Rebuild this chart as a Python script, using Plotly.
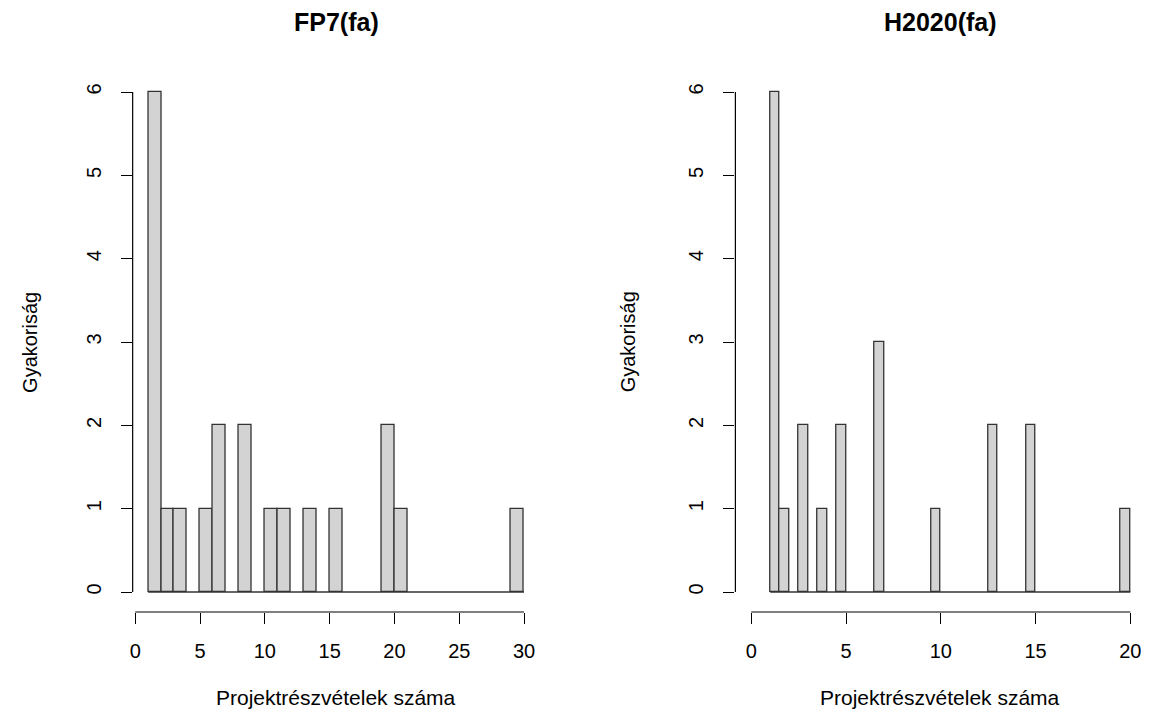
import plotly.graph_objects as go

# ---- data ----
fp7_bin_start = [1, 2, 3, 5, 6, 8, 10, 11, 13, 15, 19, 20, 29]
fp7_counts = [6, 1, 1, 1, 2, 2, 1, 1, 1, 1, 2, 1, 1]
fp7_bin_width = 1.0

h2020_bin_start = [1, 1.5, 2.5, 3.5, 4.5, 6.5, 9.5, 12.5, 14.5, 19.5]
h2020_counts = [6, 1, 2, 1, 2, 3, 1, 2, 2, 1]
h2020_bin_width = 0.5

fp7_xticks = [0, 5, 10, 15, 20, 25, 30]
h2020_xticks = [0, 5, 10, 15, 20]
y_ticks = [0, 1, 2, 3, 4, 5, 6]

titles = ["FP7(fa)", "H2020(fa)"]
x_title = "Projektrészvételek száma"
y_title = "Gyakoriság"

# ---- layout constants ----
W, H = 1150, 713
FONT = "Liberation Sans, Arial, sans-serif"
BAR_FILL = "#d3d3d3"
BAR_LINE = "#333333"

ydom = [(H - 612) / H, (H - 72) / H]
xdom1 = [130 / W, 538 / W]
xdom2 = [734.3 / W, 1145.5 / W]

fig = go.Figure()

panels = [
    (fp7_bin_start, fp7_counts, fp7_bin_width, fp7_xticks, "x", "y", [-0.2, 31.2], xdom1),
    (h2020_bin_start, h2020_counts, h2020_bin_width, h2020_xticks, "x2", "y2", [-0.84, 20.8], xdom2),
]

shapes = []
annotations = []
for i, (starts, counts, w, xt, xa, ya, xr, xd) in enumerate(panels):
    fig.add_trace(go.Bar(
        x=starts, y=counts, width=[w] * len(starts), offset=0,
        marker=dict(color=BAR_FILL, line=dict(color=BAR_LINE, width=1.3)),
        xaxis=xa, yaxis=ya, showlegend=False, hoverinfo="x+y",
    ))
    # baseline of empty bins
    fig.add_trace(go.Scatter(
        x=[min(starts), max(starts) + w], y=[0, 0], mode="lines",
        line=dict(color=BAR_LINE, width=1.3), xaxis=xa, yaxis=ya,
        showlegend=False, hoverinfo="skip",
    ))
    suffix = "" if i == 0 else "2"
    # R-style axis lines spanning first to last tick
    shapes.append(dict(type="line", xref=xa, yref=f"y{suffix} domain",
                       x0=xt[0], x1=xt[-1], y0=0, y1=0,
                       line=dict(color="black", width=1.2)))
    shapes.append(dict(type="line", xref=f"x{suffix} domain", yref=ya,
                       x0=0, x1=0, y0=y_ticks[0], y1=y_ticks[-1],
                       line=dict(color="black", width=1.2)))
    annotations.append(dict(text=f"<b>{titles[i]}</b>", xref=f"x{suffix} domain", yref="paper",
                            x=0.5, y=(H - 22) / H, showarrow=False,
                            font=dict(size=25, family=FONT, color="black"),
                            xanchor="center", yanchor="middle"))
    annotations.append(dict(text=x_title, xref=f"x{suffix} domain", yref="paper",
                            x=0.5, y=(H - 697) / H, showarrow=False,
                            font=dict(size=21, family=FONT, color="black"),
                            xanchor="center", yanchor="middle"))
    x_center = 27 if i == 0 else 627
    annotations.append(dict(text=y_title, xref="paper", yref="paper",
                            x=x_center / W, y=(H - 342) / H, showarrow=False, textangle=-90,
                            font=dict(size=20, family=FONT, color="black"),
                            xanchor="center", yanchor="middle"))

axis_common = dict(showgrid=False, zeroline=False, showline=False, ticks="outside",
                   ticklen=11, tickwidth=1.2, tickcolor="black",
                   tickfont=dict(size=20, family=FONT, color="black"))

fig.update_layout(
    width=W, height=H,
    margin=dict(l=0, r=0, t=0, b=0),
    paper_bgcolor="white", plot_bgcolor="white",
    bargap=0,
    xaxis=dict(domain=xdom1, range=panels[0][6], tickvals=fp7_xticks, anchor="y",
               ticklabelstandoff=10, **axis_common),
    yaxis=dict(domain=ydom, range=[-0.24, 6.24], tickvals=y_ticks, anchor="x",
               tickangle=-90, ticklabelstandoff=12, **axis_common),
    xaxis2=dict(domain=xdom2, range=panels[1][6], tickvals=h2020_xticks, anchor="y2",
                ticklabelstandoff=10, **axis_common),
    yaxis2=dict(domain=ydom, range=[-0.24, 6.24], tickvals=y_ticks, anchor="x2",
                tickangle=-90, ticklabelstandoff=12, **axis_common),
    shapes=shapes,
    annotations=annotations,
    font=dict(family=FONT, color="black"),
)

fig.write_html("out.html", config={"displayModeBar": False},
               post_script="document.body.style.margin='0';document.body.style.overflow='hidden';")
